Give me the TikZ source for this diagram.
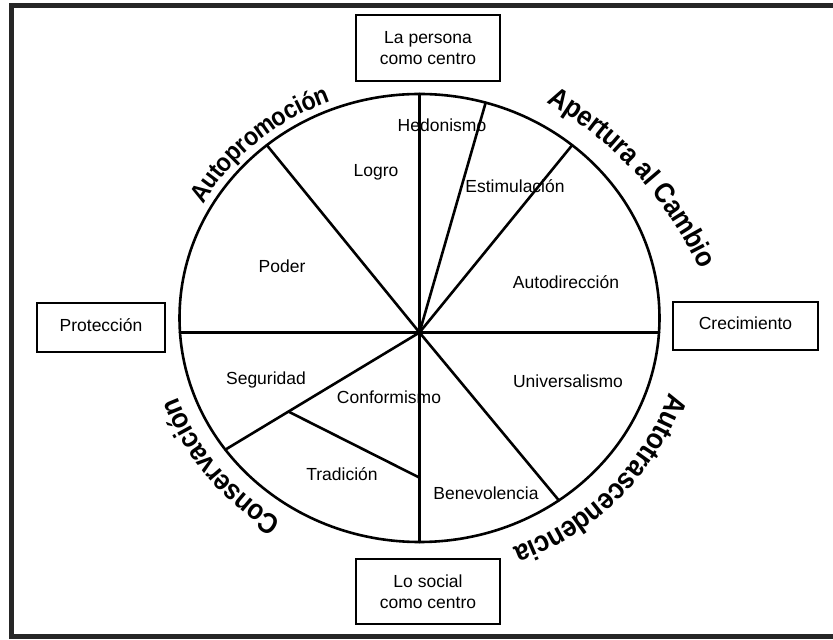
\documentclass[tikz,border=0pt]{standalone}
\usepackage{fontspec}
\setmainfont{Liberation Sans}
\newfontfamily\arcofont[FakeStretch=0.9]{Liberation Sans}
\usetikzlibrary{calc,decorations.text}
\tikzset{
	linea/.style={line width=2.6pt, line cap=round},
	marco/.style={line width=5pt, draw=black!85},
	valor/.style={font=\fontsize{17.5}{20.5}\selectfont, inner sep=0pt, text height=1.5ex, text depth=0.25ex},
	caja/.style={draw, line width=2.6pt, align=center, font=\fontsize{17.5}{20.5}\selectfont, inner sep=0pt},
	cajauna/.style={caja, text depth=0.5em},
	rotulo/.style={decorate, decoration={text along path, text align=center, raise=-8pt, text={#1}}}
}
\begin{document}
\begin{tikzpicture}[x=1pt, y=1pt]
	\useasboundingbox (0,0) rectangle (833,640);
	\clip (0,0) rectangle (833,640);
	\fill[white] (0,0) rectangle (833,640);
	\draw[marco] (11.7,3) rectangle (860,634.2);
	\coordinate (E) at (419.5,322);
	\coordinate (O) at (419.5,307.5);
	\coordinate (Arriba) at ($(E)+(90:240pt and 224pt)$);
	\coordinate (Hed) at ($(E)+(74:240pt and 224pt)$);
	\coordinate (Est) at ($(E)+(50.5:240pt and 224pt)$);
	\coordinate (Der) at ($(E)+(-3.7:240pt and 224pt)$);
	\coordinate (Uni) at ($(E)+(-54.5:240pt and 224pt)$);
	\coordinate (Abajo) at ($(E)+(-90:240pt and 224pt)$);
	\coordinate (Seg) at ($(E)+(-144:240pt and 224pt)$);
	\coordinate (Izq) at ($(E)+(183.7:240pt and 224pt)$);
	\coordinate (Pod) at ($(E)+(129.5:240pt and 224pt)$);
	\coordinate (T1) at ($(O)!0.675!(Seg)$);
	\coordinate (T2) at ($(O)!0.693!(Abajo)$);
	\draw[linea] (E) ellipse [x radius=240pt, y radius=224pt];
	\draw[linea] (O) -- (Arriba);
	\draw[linea] (O) -- (Hed);
	\draw[linea] (O) -- (Est);
	\draw[linea] (Izq) -- (Der);
	\draw[linea] (O) -- (Uni);
	\draw[linea] (O) -- (Abajo);
	\draw[linea] (O) -- (Seg);
	\draw[linea] (O) -- (Pod);
	\draw[linea] (T1) -- (T2);
	\node[valor] (hedonismo) at (442,512) {Hedonismo};
	\node[valor] (logro) at (376,467) {Logro};
	\node[valor] (estimulacion) at (515,451) {Estimulación};
	\node[valor] (poder) at (282,371) {Poder};
	\node[valor] (autodireccion) at (566,355) {Autodirección};
	\node[valor] (seguridad) at (266,259) {Seguridad};
	\node[valor] (conformismo) at (389,240) {Conformismo};
	\node[valor] (universalismo) at (568,256) {Universalismo};
	\node[valor] (tradicion) at (342,163) {Tradición};
	\node[valor] (benevolencia) at (486,144) {Benevolencia};
	\node[caja, minimum width=144pt, minimum height=66pt] (persona) at (428,592) {La persona\\como centro};
	\node[caja, minimum width=144pt, minimum height=65pt] (social) at (428,48.5) {Lo social\\como centro};
	\node[cajauna, minimum width=128pt, minimum height=49pt] (proteccion) at (101,312.5) {Protección};
	\node[cajauna, minimum width=145pt, minimum height=48pt] (crecimiento) at (745.5,314) {Crecimiento};
	\path[rotulo={|\arcofont\bfseries\fontsize{25.7}{25.7}\selectfont|Autopromoción}] ($(E)+(160:256pt and 240pt)$) arc[start angle=160, end angle=102, x radius=256pt, y radius=240pt];
	\path[rotulo={|\arcofont\bfseries\fontsize{28.3}{28.3}\selectfont|Apertura al Cambio}] ($(366.2,218.4)+(66:374.5pt)$) arc[start angle=66, end angle=19, radius=374.5pt];
	\path[rotulo={|\arcofont\bfseries\fontsize{29}{29}\selectfont|Autotrascendencia}] ($(E)+(-5:270pt and 254pt)$) arc[start angle=-5, end angle=-81, x radius=270pt, y radius=254pt];
	\path[rotulo={|\arcofont\bfseries\fontsize{28.5}{28.5}\selectfont|Conservación}] ($(E)+(252:264pt and 248pt)$) arc[start angle=252, end angle=184, x radius=264pt, y radius=248pt];
\end{tikzpicture}
\end{document}
